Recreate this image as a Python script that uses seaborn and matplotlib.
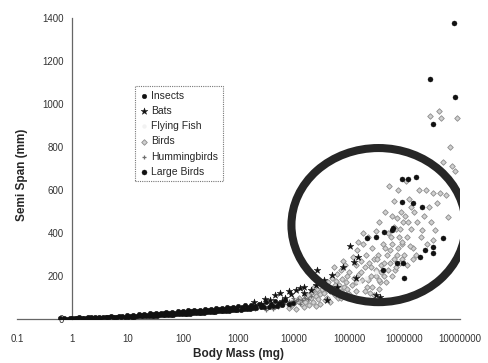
import matplotlib
matplotlib.use("Agg")
import matplotlib.pyplot as plt
import seaborn as sns
import pandas as pd
from matplotlib.patches import Ellipse

# ---------------- data (body mass in mg, semi span in mm) ----------------
insect_mass_a = [0.6, 0.7, 0.9, 1.1, 1.3, 1.6, 1.9, 2.2, 2.6, 3.0,
                 3.5, 4.2, 5.0, 5.8, 7.0, 8.0, 9.5, 11, 12.5, 14,
                 16, 18, 20, 22, 25, 28, 32, 36, 40, 45,
                 50, 56, 63, 70, 80, 90, 100, 112, 125, 140,
                 160, 180, 200, 225, 250, 280, 320, 360, 400, 450,
                 500, 560, 630, 700, 800, 900, 1000, 1150, 1300, 1500,
                 1700, 2000, 2300, 2700, 3200, 3800, 4500, 5500, 7000]
insect_span_a = [4, 6, 3, 5, 7, 6, 9, 7, 10, 8,
                 11, 9, 12, 10, 14, 12, 17, 15, 20, 16,
                 22, 18, 24, 20, 26, 22, 28, 24, 30, 26,
                 32, 28, 34, 29, 36, 31, 38, 33, 40, 35,
                 42, 37, 44, 39, 46, 41, 48, 43, 50, 45,
                 52, 47, 55, 49, 58, 52, 60, 55, 64, 58,
                 67, 62, 72, 66, 77, 70, 82, 74, 88]
insect_mass_b = [0.8, 1.0, 1.2, 1.5, 1.8, 2.0, 2.4, 2.8, 3.2, 4.0,
                 4.6, 5.4, 6.5, 7.5, 9, 10, 12, 13, 15, 17,
                 19, 21, 24, 27, 30, 34, 38, 43, 48, 53,
                 60, 67, 75, 85, 95, 106, 118, 132, 150, 170,
                 190, 210, 240, 265, 300, 340, 380, 430, 480, 530,
                 600, 670, 750, 850, 950, 1100, 1250, 1400, 1600, 1850,
                 2100, 2500, 2900, 3500, 4200, 5000, 6000, 8000, 9500]
insect_span_b = [2, 3, 3, 4, 4, 5, 5, 6, 6, 7,
                 7, 8, 8, 9, 9, 10, 10, 11, 12, 12,
                 13, 13, 14, 15, 15, 16, 17, 17, 18, 19,
                 19, 20, 21, 22, 22, 23, 24, 25, 26, 27,
                 28, 29, 30, 31, 32, 33, 34, 35, 36, 37,
                 38, 39, 40, 41, 42, 44, 45, 46, 48, 50,
                 52, 54, 56, 58, 60, 62, 65, 70, 75]

bat_mass = [105000, 120000, 78000, 26000, 49000, 130000, 300000, 360000, 46000, 20000,
            15000, 145000, 5600, 3700, 1900, 13000, 10700, 3000, 4500, 7000,
            8000, 9000, 2500, 6000, 15000, 25000, 35000, 60000, 40000]
bat_span = [340, 265, 242, 228, 205, 191, 112, 102, 135, 135,
            149, 288, 121, 88, 79, 144, 135, 95, 110, 100,
            130, 115, 70, 85, 120, 160, 180, 150, 90]

fish_mass = [150000, 200000, 300000]
fish_span = [170, 190, 220]

bird_mass = [10000, 12000, 14000, 15000, 17000, 18000, 20000, 22000, 24000, 25000,
             27000, 28000, 30000, 32000, 12500, 16000, 21000, 26000, 19000, 23000,
             35000, 38000, 40000, 42000, 45000, 48000, 50000, 55000, 58000, 60000,
             65000, 70000, 72000, 75000, 80000, 85000, 90000, 95000, 36000, 52000,
             62000, 78000, 88000,
             100000, 110000, 115000, 120000, 130000, 135000, 140000, 150000, 160000, 170000,
             180000, 190000, 200000, 210000, 220000, 230000, 250000, 260000, 280000, 300000,
             310000, 105000, 145000, 240000, 175000,
             330000, 350000, 370000, 400000, 420000, 450000, 480000, 500000, 550000, 580000,
             600000, 650000, 700000, 720000, 750000, 800000, 850000, 900000, 950000, 360000,
             520000, 680000, 880000,
             1000000, 1100000, 1200000, 1300000, 1400000, 1500000, 1700000, 1800000, 2000000,
             2200000, 2500000, 2800000, 3000000, 1600000, 1050000, 2400000, 2100000, 3200000,
             3500000,
             3200000, 4400000, 5500000, 6100000, 3800000, 5000000, 6600000, 7200000, 8100000,
             2900000, 4600000, 8900000, 4200000,
             220000, 260000, 300000, 340000, 380000, 420000, 460000, 500000, 540000, 600000,
             650000, 700000, 760000, 820000, 900000, 980000, 1100000, 1250000, 1400000, 250000,
             320000, 440000, 560000, 630000, 720000, 840000, 1150000, 1300000, 190000, 280000,
             350000, 160000, 130000, 90000, 70000, 55000, 45000, 30000, 25000, 15000,
             9000, 8000, 11000]
bird_span = [75, 85, 70, 95, 90, 110, 100, 80, 120, 105,
             95, 130, 115, 140, 100, 80, 125, 140, 65, 150,
             120, 150, 100, 170, 130, 190, 145, 110, 175, 210,
             160, 130, 230, 185, 150, 250, 200, 120, 90, 240,
             100, 270, 170,
             220, 160, 290, 190, 250, 130, 320, 210, 270, 180,
             350, 240, 300, 150, 380, 260, 200, 330, 280, 410,
             230, 110, 360, 120, 400,
             300, 450, 250, 350, 200, 500, 300, 400, 260, 480,
             350, 550, 420, 300, 600, 380, 500, 280, 450, 170,
             620, 230, 350,
             480, 380, 560, 420, 330, 500, 450, 600, 380,
             480, 350, 520, 450, 300, 640, 600, 414, 367,
             414,
             586, 586, 577, 474, 540, 730, 800, 712, 690,
             944, 935, 935, 967,
             180, 150, 200, 180, 220, 260, 170, 230, 320, 200,
             280, 240, 330, 260, 360, 300, 250, 340, 280, 240,
             280, 330, 380, 430, 470, 420, 450, 520, 130, 110,
             140, 220, 170, 140, 100, 160, 80, 70, 60, 55,
             60, 50, 45]

humm_mass = [2000, 2500, 3000, 3500, 4000, 4500, 5000, 5500, 6000, 6500,
             7000, 7500, 8000, 9000, 10000, 11000, 12000, 14000, 16000, 18000,
             20000, 3200, 4200, 5200, 8500, 9500, 13000, 15000]
humm_span = [45, 55, 50, 60, 65, 58, 70, 62, 75, 68,
             80, 72, 85, 78, 90, 82, 95, 88, 100, 92,
             105, 42, 48, 55, 60, 100, 70, 110]

large_mass = [7900000, 2900000, 8100000, 3200000, 910000, 1600000, 1150000, 910000,
              1400000, 2100000, 5000000, 3300000, 2300000, 3200000, 1900000, 600000,
              950000, 980000, 620000, 420000, 210000, 300000, 400000, 740000]
large_span = [1377, 1116, 1033, 907, 651, 660, 651, 544,
              540, 521, 377, 335, 321, 307, 288, 414,
              260, 191, 423, 405, 377, 381, 228, 260]

x_ticks = [0.1, 1, 10, 100, 1000, 10000, 100000, 1000000, 10000000]
x_tick_labels = ["0.1", "1", "10", "100", "1000", "10000", "100000", "1000000", "10000000"]
y_ticks = [0, 200, 400, 600, 800, 1000, 1200, 1400]

# ---------------- figure ----------------
sns.set_style("white")
plt.rcParams["font.family"] = ["Liberation Sans", "DejaVu Sans"]

fig = plt.figure(figsize=(4.89, 3.63), dpi=100)
ax = fig.add_axes([17 / 489, 1 - 319 / 363, 443 / 489, 301 / 363])

def df(m, s):
    return pd.DataFrame({"mass": m, "span": s})

sns.scatterplot(data=df(bird_mass, bird_span), x="mass", y="span", ax=ax,
                marker="D", s=8, color="#cfcfcf", edgecolor="#8c8c8c",
                linewidth=0.6, label="Birds", zorder=2)
sns.scatterplot(data=df(humm_mass, humm_span), x="mass", y="span", ax=ax,
                marker="+", s=12, color="#6e6e6e", linewidth=0.9,
                label="Hummingbirds", zorder=3)
sns.scatterplot(data=df(fish_mass, fish_span), x="mass", y="span", ax=ax,
                marker="o", s=8, color="#f2f2f2", edgecolor="#f2f2f2",
                label="Flying Fish", zorder=2)
sns.scatterplot(data=df(insect_mass_a + insect_mass_b, insect_span_a + insect_span_b),
                x="mass", y="span", ax=ax, marker="o", s=11, color="#111111",
                edgecolor="#111111", linewidth=0.3, label="Insects", zorder=4)
sns.scatterplot(data=df(bat_mass, bat_span), x="mass", y="span", ax=ax,
                marker="*", s=26, color="#111111", edgecolor="#111111",
                linewidth=0.3, label="Bats", zorder=5)
sns.scatterplot(data=df(large_mass, large_span), x="mass", y="span", ax=ax,
                marker="o", s=13, color="#111111", edgecolor="#111111",
                linewidth=0.3, label="Large Birds", zorder=5)

ax.set_xscale("log")
ax.set_xlim(0.1, 10000000)
ax.set_ylim(0, 1400)
ax.set_xticks(x_ticks, x_tick_labels)
ax.minorticks_off()
ax.set_yticks(y_ticks)
ax.set_xlabel("Body Mass (mg)", fontsize=8.5, fontweight="bold", labelpad=3)
ax.set_ylabel("Semi Span (mm)", fontsize=8.5, fontweight="bold")
ax.yaxis.set_label_coords(0.025, 0.48)

for side in ["top", "right"]:
    ax.spines[side].set_visible(False)
ax.spines["left"].set_position(("data", 1))
for side in ["left", "bottom"]:
    ax.spines[side].set_color("#666666")
    ax.spines[side].set_linewidth(0.9)
    ax.spines[side].set_linestyle((0, (1, 1)))
ax.tick_params(axis="both", labelsize=7, colors="#333333", length=3, width=0.7,
               direction="out", pad=3)
ax.tick_params(axis="x", pad=8)

# ellipse highlight
ax.add_patch(Ellipse((0.816, 0.312), 0.393, 0.512, transform=ax.transAxes,
                     fill=False, edgecolor="#262626", linewidth=5.8, zorder=6))

# legend in the original order
handles, labels = ax.get_legend_handles_labels()
order = ["Insects", "Bats", "Flying Fish", "Birds", "Hummingbirds", "Large Birds"]
hmap = dict(zip(labels, handles))
leg = ax.legend([hmap[k] for k in order], order, loc="upper left",
                bbox_to_anchor=((135 - 17) / 443, (319 - 86) / 301), fontsize=7.5,
                frameon=True, fancybox=False, borderpad=0.45, labelspacing=0.5,
                handletextpad=0.2, handlelength=0.9, borderaxespad=0)
frame = leg.get_frame()
frame.set_edgecolor("#555555")
frame.set_linestyle((0, (1, 1)))
frame.set_linewidth(0.8)

fig.savefig("out.png", dpi=100)
